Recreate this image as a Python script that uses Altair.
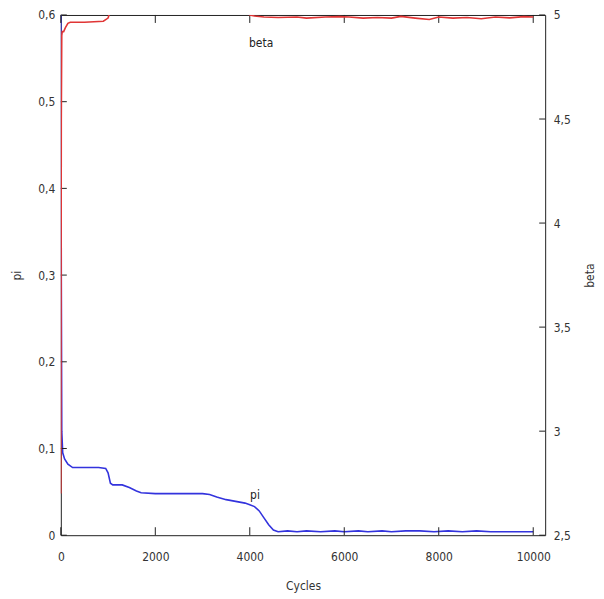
import altair as alt
import pandas as pd

# pi series (Cycles, pi)
pi_x = [0, 10, 20, 40, 80, 150, 250, 500, 800, 950, 1000, 1050, 1100, 1300, 1450, 1600, 1700, 2000,
        2500, 3000, 3150, 3300, 3500, 3700, 3900, 4000, 4100, 4200, 4300, 4400, 4500, 4600, 4800,
        5000, 5200, 5500, 5800, 6000, 6300, 6500, 6800, 7000, 7300, 7600, 7900, 8200, 8500, 8800,
        9100, 9400, 9700, 10000]
pi_y = [0.62, 0.30, 0.12, 0.095, 0.088, 0.082, 0.078, 0.078, 0.078, 0.077, 0.072, 0.060, 0.058, 0.058,
        0.055, 0.051, 0.049, 0.048, 0.048, 0.048, 0.047, 0.044, 0.041, 0.039, 0.037, 0.035, 0.033,
        0.028, 0.020, 0.012, 0.006, 0.004, 0.005, 0.004, 0.005, 0.004, 0.005, 0.004, 0.005, 0.004,
        0.005, 0.004, 0.005, 0.005, 0.004, 0.005, 0.004, 0.005, 0.004, 0.004, 0.004, 0.004]

# beta series (Cycles, beta)
beta_x = [0, 5, 10, 20, 30, 60, 100, 150, 200, 500, 900, 1000, 1050, 1100, 2000, 3000, 3900, 4000,
          4100, 4300, 4600, 5000, 5200, 5600, 5900, 6100, 6400, 6700, 7000, 7200, 7500, 7800, 8000,
          8300, 8600, 8900, 9200, 9500, 9800, 10000]
beta_y = [2.7, 3.5, 4.5, 4.9, 4.92, 4.92, 4.94, 4.96, 4.965, 4.965, 4.97, 4.985, 5.02, 5.03, 5.05,
          5.05, 5.02, 5.0, 4.995, 4.99, 4.988, 4.99, 4.985, 4.99, 4.992, 4.99, 4.985, 4.988, 4.985,
          4.993, 4.985, 4.978, 4.99, 4.985, 4.988, 4.982, 4.99, 4.986, 4.992, 4.99]

x_ticks = [0, 2000, 4000, 6000, 8000, 10000]
pi_ticks = [0, 0.1, 0.2, 0.3, 0.4, 0.5, 0.6]
beta_ticks = [2.5, 3, 3.5, 4, 4.5, 5]

pi_df = pd.DataFrame({"Cycles": pi_x, "pi": pi_y})
beta_df = pd.DataFrame({"Cycles": beta_x, "beta": beta_y})

W, H = 486, 522
FONT = "DejaVu Sans Condensed"
xscale = alt.Scale(domain=[0, 10253], nice=False, zero=False)
pi_scale = alt.Scale(domain=[0, 0.6], nice=False)
beta_scale = alt.Scale(domain=[2.5, 5], nice=False, zero=False)

x_axis = alt.Axis(values=x_ticks, title="Cycles", labelPadding=16, titlePadding=18,
                  format="d", labelFlush=False)
comma = "replace(format(datum.value, '~g'), '.', ',')"
pi_axis = alt.Axis(values=pi_ticks, title="pi", orient="left", labelExpr=comma,
                   labelPadding=6, titlePadding=14, titleAngle=270)
beta_axis = alt.Axis(values=beta_ticks, title="beta", orient="right", labelExpr=comma,
                     labelPadding=8, titlePadding=26, titleAngle=270)

pi_line = alt.Chart(pi_df).mark_line(color="#3333dd", strokeWidth=1.6, clip=True).encode(
    x=alt.X("Cycles:Q", scale=xscale, axis=x_axis),
    y=alt.Y("pi:Q", scale=pi_scale, axis=pi_axis),
)
pi_text = alt.Chart(pd.DataFrame({"Cycles": [4110], "pi": [0.046], "t": ["pi"]})).mark_text(
    font=FONT, fontSize=12, color="#222222").encode(
    x=alt.X("Cycles:Q", scale=xscale, axis=x_axis),
    y=alt.Y("pi:Q", scale=pi_scale, axis=pi_axis), text="t:N")
pi_tick_marks = alt.Chart(pd.DataFrame({"pi": pi_ticks})).mark_rule(color="#222222").encode(
    y=alt.Y("pi:Q", scale=pi_scale, axis=pi_axis), x=alt.value(0), x2=alt.value(6))
xt_df = pd.DataFrame({"Cycles": x_ticks})
x_tick_bottom = alt.Chart(xt_df).mark_rule(color="#222222").encode(
    x=alt.X("Cycles:Q", scale=xscale, axis=x_axis), y=alt.value(H - 8), y2=alt.value(H))
x_tick_top = alt.Chart(xt_df).mark_rule(color="#222222").encode(
    x=alt.X("Cycles:Q", scale=xscale, axis=x_axis), y=alt.value(0), y2=alt.value(8))

left = alt.layer(pi_line, pi_text, pi_tick_marks, x_tick_bottom, x_tick_top)

beta_line = alt.Chart(beta_df).mark_line(color="#e03535", strokeWidth=1.6, clip=True).encode(
    x=alt.X("Cycles:Q", scale=xscale, axis=x_axis),
    y=alt.Y("beta:Q", scale=beta_scale, axis=beta_axis),
)
beta_text = alt.Chart(pd.DataFrame({"Cycles": [4240], "beta": [4.866], "t": ["beta"]})).mark_text(
    font=FONT, fontSize=12, color="#222222").encode(
    x=alt.X("Cycles:Q", scale=xscale, axis=x_axis),
    y=alt.Y("beta:Q", scale=beta_scale, axis=beta_axis), text="t:N")
beta_tick_marks = alt.Chart(pd.DataFrame({"beta": beta_ticks})).mark_rule(color="#222222").encode(
    y=alt.Y("beta:Q", scale=beta_scale, axis=beta_axis), x=alt.value(W - 6), x2=alt.value(W))

right = alt.layer(beta_line, beta_text, beta_tick_marks)

chart = alt.layer(left, right).resolve_scale(y="independent").properties(
    width=W, height=H,
    autosize=alt.AutoSizeParams(type="none"),
    padding={"left": 53, "top": 6, "right": 51, "bottom": 58},
).configure_view(stroke="#222222", strokeWidth=1).configure_axis(
    domain=False, ticks=False, tickSize=0, grid=False,
    labelFont=FONT, labelFontSize=12, labelColor="#333333",
    titleFont=FONT, titleFontSize=12, titleFontWeight="normal", titleColor="#333333",
)

chart.save("out.html", embed_options={"renderer": "svg", "actions": False})
